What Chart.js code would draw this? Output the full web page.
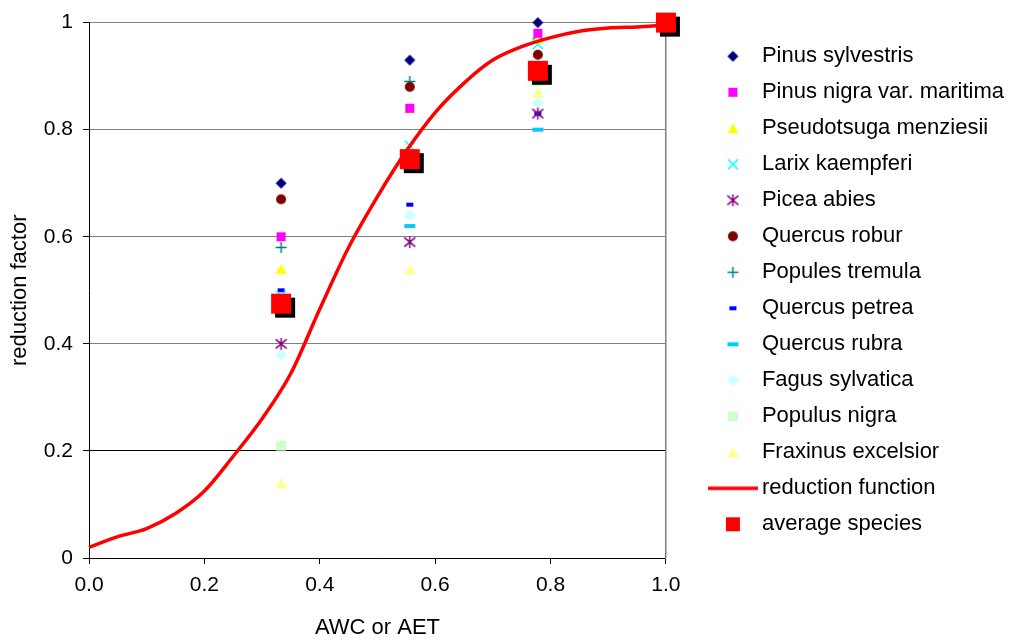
<!DOCTYPE html>
<html>
<head>
<meta charset="utf-8">
<title>Reduction factor</title>
<script src="https://cdn.jsdelivr.net/npm/chart.js@4.4.1/dist/chart.umd.min.js"></script>
<style>
  html, body { margin: 0; padding: 0; background: #fff; }
  canvas { display: block; }
</style>
</head>
<body>
<canvas id="chart" width="1014" height="642"></canvas>
<script>
// AWC / AET classes where the species were measured
const awcLevels = [0.333, 0.556, 0.778, 1.0];

// reduction factor per species at each class
const pinusSylvestris   = [0.70, 0.93, 1.00, 1.00];
const pinusNigra        = [0.60, 0.84, 0.98, 1.00];
const pseudotsuga       = [0.54, 0.84, 0.97, 1.00];
const larixKaempferi    = [0.49, 0.77, 0.96, 1.00];
const piceaAbies        = [0.40, 0.59, 0.83, 1.00];
const quercusRobur      = [0.67, 0.88, 0.94, 1.00];
const populesTremula    = [0.58, 0.89, 0.97, 1.00];
const quercusPetrea     = [0.50, 0.66, 0.83, 1.00];
const quercusRubra      = [0.48, 0.62, 0.80, 1.00];
const fagusSylvatica    = [0.38, 0.64, 0.85, 1.00];
const populusNigra      = [0.21, 0.74, 0.89, 1.00];
const fraxinusExcelsior = [0.14, 0.54, 0.87, 1.00];
const averageSpecies    = [0.475, 0.745, 0.91, 1.00];

// fitted reduction function
const curveX = [0, 0.05, 0.1, 0.15, 0.2, 0.25, 0.3, 0.35, 0.4, 0.45, 0.5,
                0.55, 0.6, 0.65, 0.7, 0.75, 0.8, 0.85, 0.9, 0.95, 1.0];
const curveY = [0.02, 0.04, 0.055, 0.083, 0.125, 0.19, 0.26, 0.345, 0.465, 0.58, 0.675,
                0.76, 0.832, 0.887, 0.93, 0.955, 0.972, 0.984, 0.99, 0.992, 0.995];

const xTicks = [0, 0.2, 0.4, 0.6, 0.8, 1.0];
const xLabels = ['0.0', '0.2', '0.4', '0.6', '0.8', '1.0'];
const yTicks = [0, 0.2, 0.4, 0.6, 0.8, 1];
const yLabels = ['0', '0.2', '0.4', '0.6', '0.8', '1'];

const FONT = 'Arial, "Liberation Sans", sans-serif';

// small offscreen canvases used as point styles
function marker(shape, color, w, h) {
    const c = document.createElement('canvas');
    c.width = Math.ceil(w) + 2;
    c.height = Math.ceil(h) + 2;
    const g = c.getContext('2d');
    const cx = c.width / 2, cy = c.height / 2;
    g.fillStyle = color;
    g.strokeStyle = color;
    g.lineWidth = 1.5;
    g.beginPath();
    switch (shape) {
        case 'diamond':
            g.moveTo(cx, cy - h / 2); g.lineTo(cx + w / 2, cy);
            g.lineTo(cx, cy + h / 2); g.lineTo(cx - w / 2, cy);
            g.closePath(); g.fill();
            break;
        case 'square':
        case 'dash':
            g.fillRect(cx - w / 2, cy - h / 2, w, h);
            break;
        case 'triangle':
            g.moveTo(cx, cy - h / 2); g.lineTo(cx + w / 2, cy + h / 2);
            g.lineTo(cx - w / 2, cy + h / 2); g.closePath(); g.fill();
            break;
        case 'circle':
            g.arc(cx, cy, w / 2, 0, Math.PI * 2); g.fill();
            break;
        case 'cross':
            g.moveTo(cx - w / 2, cy - h / 2); g.lineTo(cx + w / 2, cy + h / 2);
            g.moveTo(cx + w / 2, cy - h / 2); g.lineTo(cx - w / 2, cy + h / 2);
            g.stroke();
            break;
        case 'plus':
            g.moveTo(cx - w / 2, cy); g.lineTo(cx + w / 2, cy);
            g.moveTo(cx, cy - h / 2); g.lineTo(cx, cy + h / 2);
            g.stroke();
            break;
        case 'star':
            g.moveTo(cx - w / 2, cy - h / 2.6); g.lineTo(cx + w / 2, cy + h / 2.6);
            g.moveTo(cx + w / 2, cy - h / 2.6); g.lineTo(cx - w / 2, cy + h / 2.6);
            g.moveTo(cx, cy - h / 2); g.lineTo(cx, cy + h / 2);
            g.stroke();
            break;
        case 'line':
            g.lineWidth = h;
            g.moveTo(0, cy); g.lineTo(c.width, cy);
            g.stroke();
            break;
    }
    return c;
}

const species = [
    { label: 'Pinus sylvestris',          values: pinusSylvestris,   style: marker('diamond', '#000080', 11, 11) },
    { label: 'Pinus nigra var. maritima', values: pinusNigra,        style: marker('square', '#ff00ff', 9, 9) },
    { label: 'Pseudotsuga menziesii',     values: pseudotsuga,       style: marker('triangle', '#ffff00', 11, 10) },
    { label: 'Larix kaempferi',           values: larixKaempferi,    style: marker('cross', '#00ffff', 10, 10) },
    { label: 'Picea abies',               values: piceaAbies,        style: marker('star', '#800080', 11, 12) },
    { label: 'Quercus robur',             values: quercusRobur,      style: marker('circle', '#800000', 10, 10) },
    { label: 'Popules tremula',           values: populesTremula,    style: marker('plus', '#008080', 11, 11) },
    { label: 'Quercus petrea',            values: quercusPetrea,     style: marker('dash', '#0000ff', 7, 4) },
    { label: 'Quercus rubra',             values: quercusRubra,      style: marker('dash', '#00ccff', 11, 4) },
    { label: 'Fagus sylvatica',           values: fagusSylvatica,    style: marker('diamond', '#ccffff', 12, 12) },
    { label: 'Populus nigra',             values: populusNigra,      style: marker('square', '#ccffcc', 10, 10) },
    { label: 'Fraxinus excelsior',        values: fraxinusExcelsior, style: marker('triangle', '#ffff99', 12, 11) }
];

const datasets = species.map(s => ({
    label: s.label,
    data: awcLevels.map((x, i) => ({ x: x, y: s.values[i] })),
    pointStyle: s.style,
    pointRadius: 6,
    showLine: false,
    clip: false,
    order: 2
}));

datasets.push({
    label: 'reduction function',
    data: curveX.map((x, i) => ({ x: x, y: curveY[i] })),
    showLine: true,
    borderColor: '#ff0000',
    borderWidth: 3.5,
    pointRadius: 0,
    cubicInterpolationMode: 'monotone',
    clip: false,
    order: 1
});

datasets.push({
    label: 'average species',
    data: awcLevels.map((x, i) => ({ x: x, y: averageSpecies[i] })),
    pointStyle: marker('square', '#ff0000', 20, 20),
    pointRadius: 10,
    showLine: false,
    clip: false,
    shadow: true,
    order: 0
});

const legendMarkers = species.map(s => s.style)
    .concat([marker('line', '#ff0000', 48, 3.5), marker('square', '#ff0000', 14, 14)]);

// hard drop shadow under the average markers
const shadowPlugin = {
    id: 'markerShadow',
    beforeDatasetDraw(chart, args) {
        if (chart.data.datasets[args.index].shadow) {
            const ctx = chart.ctx;
            ctx.save();
            ctx.shadowColor = '#000';
            ctx.shadowBlur = 0;
            ctx.shadowOffsetX = 4;
            ctx.shadowOffsetY = 4;
        }
    },
    afterDatasetDraw(chart, args) {
        if (chart.data.datasets[args.index].shadow) chart.ctx.restore();
    }
};

new Chart(document.getElementById('chart'), {
    type: 'scatter',
    data: { datasets: datasets },
    plugins: [shadowPlugin],
    options: {
        responsive: false,
        animation: false,
        events: [],
        layout: { padding: { top: 10, right: 0, bottom: 0, left: 0 } },
        scales: {
            x: {
                type: 'linear',
                min: 0,
                max: 1,
                afterBuildTicks: s => { s.ticks = xTicks.map(v => ({ value: v })); },
                afterFit: s => { s.height = 84; },
                ticks: {
                    callback: (v, i) => xLabels[i],
                    color: '#000',
                    font: { family: FONT, size: 21 },
                    padding: 9,
                    maxRotation: 0
                },
                grid: { drawOnChartArea: false, tickLength: 6, tickColor: '#000' },
                border: { color: '#000', width: 1 },
                title: {
                    display: true,
                    text: 'AWC or AET',
                    color: '#000',
                    font: { family: FONT, size: 22 },
                    padding: { top: 0, bottom: 1 }
                }
            },
            y: {
                min: 0,
                max: 1,
                afterBuildTicks: s => { s.ticks = yTicks.map(v => ({ value: v })); },
                afterFit: s => { s.width = 89; },
                ticks: {
                    callback: (v, i) => yLabels[i],
                    color: '#000',
                    font: { family: FONT, size: 21 },
                    padding: 10
                },
                grid: {
                    color: c => (c.tick && c.tick.value === 0.2 ? '#000' : '#808080'),
                    lineWidth: 1,
                    tickLength: 6,
                    tickColor: '#000'
                },
                border: { color: '#000', width: 1 },
                title: {
                    display: true,
                    text: 'reduction factor',
                    color: '#000',
                    font: { family: FONT, size: 22 },
                    padding: { top: 7, bottom: 0 }
                }
            },
            // right frame of the plot area
            yRight: {
                position: 'right',
                min: 0,
                max: 1,
                afterFit: s => { s.width = 35; },
                ticks: { display: false },
                grid: { drawOnChartArea: false, drawTicks: false },
                border: { color: '#808080', width: 1.5 }
            }
        },
        plugins: {
            title: { display: false },
            tooltip: { enabled: false },
            legend: {
                position: 'right',
                align: 'center',
                fullSize: false,
                maxWidth: 400,
                labels: {
                    usePointStyle: true,
                    pointStyleWidth: 36,
                    padding: 14,
                    color: '#000',
                    font: { family: FONT, size: 22 },
                    sort: (a, b) => a.datasetIndex - b.datasetIndex,
                    generateLabels: chart => {
                        const items = Chart.defaults.plugins.legend.labels.generateLabels(chart);
                        items.forEach(item => { item.pointStyle = legendMarkers[item.datasetIndex]; });
                        return items;
                    }
                }
            }
        }
    }
});
</script>
</body>
</html>
